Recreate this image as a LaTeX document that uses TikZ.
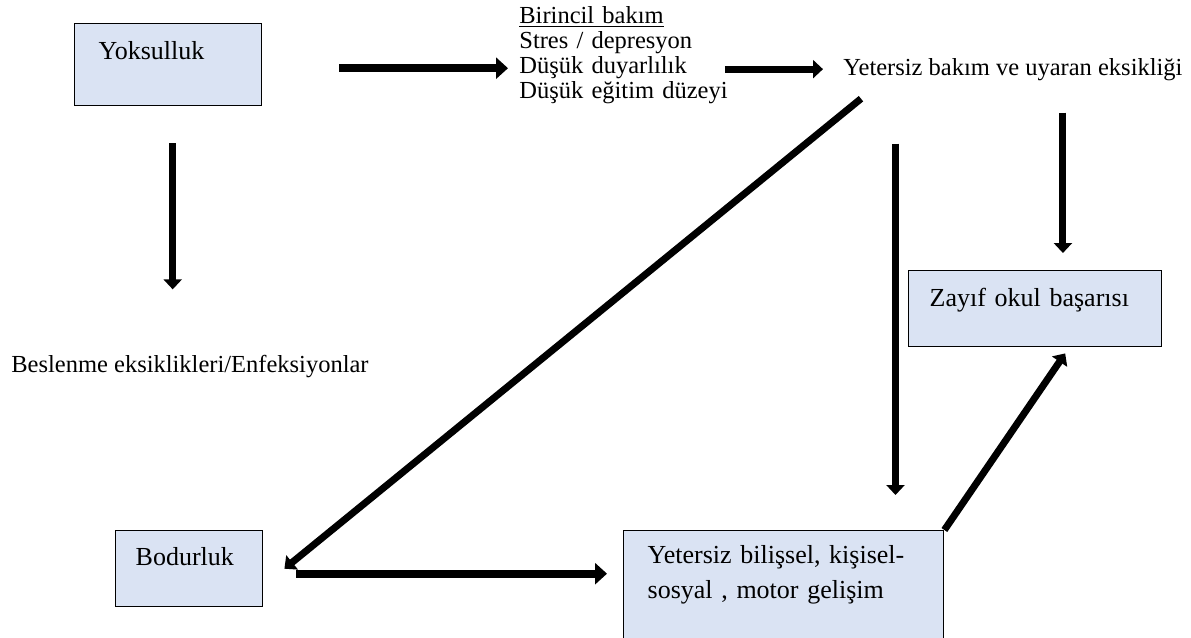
\documentclass[tikz,border=0pt]{standalone}
\usepackage{fontspec}
\setmainfont{Liberation Serif}
\usetikzlibrary{arrows.meta,calc}
\definecolor{boxblue}{HTML}{DAE3F3}

\begin{document}
\begin{tikzpicture}[
    x=0.5pt, y=-0.5pt,
    % ---- styles -------------------------------------------------
    box/.style={
        draw=black, line width=0.7pt, fill=boxblue,
        anchor=north west, align=left, inner ysep=9pt,
        text height=9pt, font=\fontsize{13}{17.5}\selectfont},
    plain/.style={anchor=base west, inner sep=0pt,
        font=\fontsize{12.25}{12.6}\selectfont},
    flow/.style={-{Triangle[length=5pt,width=9pt]}, line width=3.5pt, draw=black},
    bigflow/.style={flow, line width=4.25pt, -{Triangle[length=6pt,width=10.5pt]}},
]
\useasboundingbox (0,0) rectangle (1191,638);

% =================== boxes ====================================
\node[box, inner xsep=12pt, text width=69.5pt, text depth=14pt] (yoks) at (74,23) {Yoksulluk};
\node[box, inner xsep=10.5pt, text width=105.5pt, text depth=11pt] (zayif) at (908,270) {Zayıf okul başarısı};
\node[box, inner xsep=10pt, inner ysep=8.5pt, text width=53.5pt, text depth=12pt] (bodurluk) at (115,530) {Bodurluk};
\node[box, inner xsep=12pt, inner ysep=7.5pt, text width=136pt, text depth=41pt] (yetbilis) at (623,530)
    {Yetersiz bilişsel, kişisel-\\ sosyal , motor gelişim};

% =================== free texts ===============================
\node[plain, align=left, text width=115pt] (birincil) at (519,23)
    {\underline{Birincil bakım}\\ Stres / depresyon\\ Düşük duyarlılık\\ Düşük eğitim düzeyi};
\node[plain] (yetbakim) at (843,75) {Yetersiz bakım ve uyaran eksikliği};
\node[plain] (beslenme) at (11,372) {Beslenme eksiklikleri/Enfeksiyonlar};

% =================== top row ==================================
\draw[bigflow, shorten <=38.5pt, shorten >=5.5pt]
    ([yshift=-1.75pt]yoks.east) -- ([yshift=-1.75pt]yoks.east -| birincil.west);
\draw[flow, shorten >=10pt]
    ([xshift=-12.5pt]birincil.east |- yetbakim.west) -- (yetbakim.west);

% =================== downward arrows ==========================
\draw[flow, shorten <=18.5pt, shorten >=32.5pt]
    ([xshift=2.25pt]yoks.south) -- ([xshift=2.25pt]yoks.south |- beslenme.north);
\draw[flow, shorten <=16pt, shorten >=8.5pt]
    ([xshift=25pt]yetbakim.south) -- ([xshift=25pt]yetbakim.south |- zayif.north);
\draw[flow, shorten <=31.5pt, shorten >=17.5pt]
    ([xshift=26.25pt]yetbakim.south west) -- ([xshift=26.25pt]yetbakim.south west |- yetbilis.north);

% =================== diagonals and bottom row =================
\draw[flow] ([xshift=9pt,yshift=-9pt]yetbakim.south west) -- ([xshift=10.5pt]bodurluk.east);
\draw[bigflow, line width=4pt, shorten <=16.5pt, shorten >=8pt]
    ([yshift=-2.5pt]bodurluk.east) -- ([yshift=-2.5pt]bodurluk.east -| yetbilis.west);
\draw[flow] (yetbilis.north east) -- ([xshift=15pt,yshift=-3pt]zayif.south);

\end{tikzpicture}
\end{document}
